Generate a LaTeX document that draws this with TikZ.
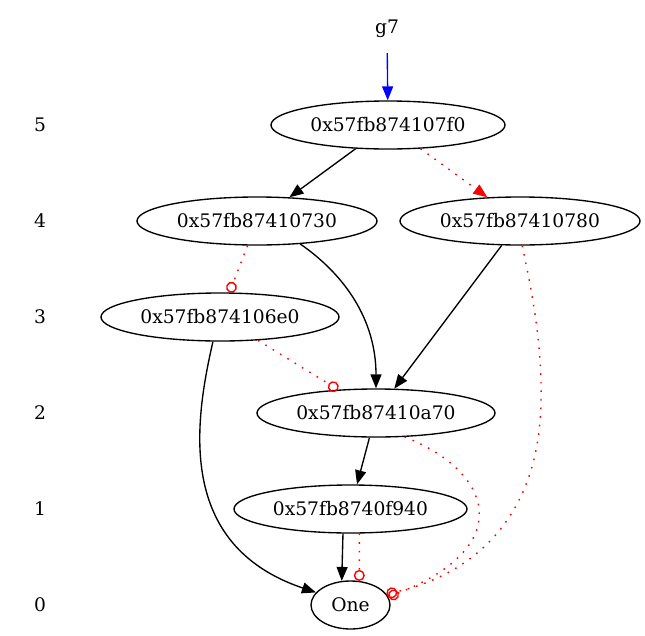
\documentclass[tikz,border=0pt]{standalone}
\usepackage{fontspec}
\setmainfont{DejaVu Serif}
\usetikzlibrary{arrows.meta,shapes.geometric}
\begin{document}
\begin{tikzpicture}[x=1pt,y=-1pt,
  every node/.style={font=\fontsize{18.67}{22}\selectfont},
  bdd/.style={ellipse, draw, line width=1.35pt, minimum height=48pt, inner sep=0pt},
  lab/.style={inner sep=0pt, minimum height=48pt, minimum width=20pt},
  hi/.style={draw, line width=1.35pt, -{Triangle[length=14pt,width=11pt]}},
  dotred/.style={draw=red, line width=1.4pt, dash pattern=on 1.6pt off 7pt},
  lo/.style={dotred, -{Circle[open,length=11pt,width=11pt]}},
  loarr/.style={dotred, -{Triangle[length=14pt,width=11pt,fill=red]}},
  root/.style={draw=blue, line width=1.35pt, -{Triangle[length=14pt,width=11pt,fill=blue]}}
]
\useasboundingbox (0,0) rectangle (645,635);
% rank labels
\node[lab] (r5) at (40,125) {5};
\node[lab] (r4) at (40,221) {4};
\node[lab] (r3) at (40,317) {3};
\node[lab] (r2) at (40,413) {2};
\node[lab] (r1) at (40,509) {1};
\node[lab] (r0) at (40,605) {0};
% nodes
\node[lab] (g7) at (387,29) {g7};
\node[bdd, minimum width=234pt] (n5) at (388,125) {0x57fb874107f0};
\node[bdd, minimum width=240pt] (n4a) at (257,221) {0x57fb87410730};
\node[bdd, minimum width=240pt] (n4b) at (520,221) {0x57fb87410780};
\node[bdd, minimum width=238pt] (n3) at (220,317) {0x57fb874106e0};
\node[bdd, minimum width=238pt] (n2) at (376,413) {0x57fb87410a70};
\node[bdd, minimum width=233pt] (n1) at (350.5,509) {0x57fb8740f940};
\node[bdd, minimum width=79pt] (one) at (350.5,605) {One};
% edges
\draw[root] (g7) -- (n5);
\draw[hi] (n5) -- (n4a);
\draw[loarr] (n5) -- (n4b);
\draw[lo] (n4a) -- (n3);
\draw[hi] (n4a.-28) .. controls (345,275) and (376,320) .. (n2.north);
\draw[hi] (n4b) -- (n2);
\draw[lo] (n3) -- (n2);
\draw[hi] (n3.-106) .. controls (195,420) and (175,545) .. (one.160);
\draw[hi] (n2) -- (n1);
\draw[lo] (n2.-40) .. controls (490,470) and (520,545) .. (one.12);
\draw[lo] (n4b.-85) .. controls (534,300) and (542,350) .. (541,400)
  .. controls (540,520) and (470,575) .. (one.17);
\draw[hi] (n1.-107) -- (one.110);
\draw[lo] (n1.-70.5) -- (one.70);
\end{tikzpicture}
\end{document}
